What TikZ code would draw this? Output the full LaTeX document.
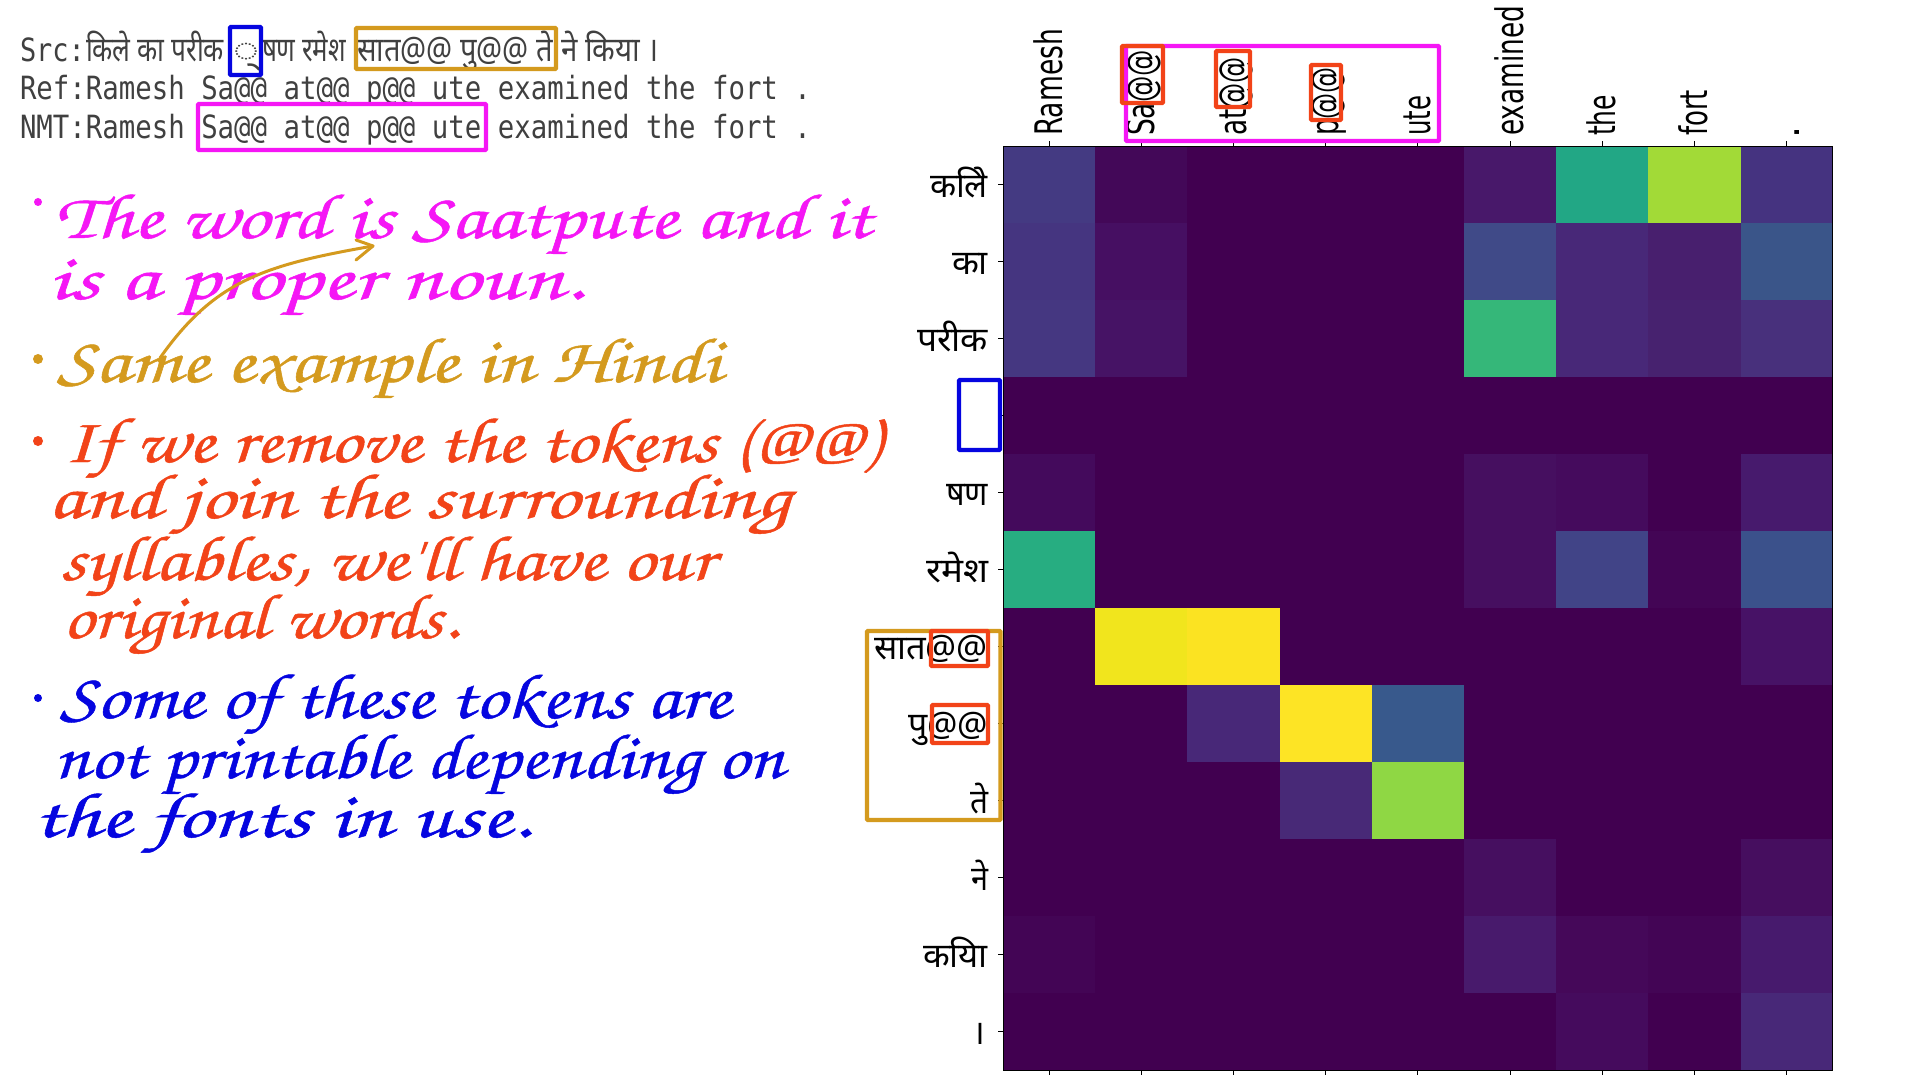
\documentclass[tikz,border=0pt]{standalone}
\usepackage{graphicx}
\usepackage{fontspec}
\setmainfont{DejaVu Sans}
\newfontfamily\monof{DejaVu Sans Mono}
\newfontfamily\devf[Script=Devanagari]{Noto Sans}
\newfontfamily\devraw{Noto Sans}
\newfontfamily\handf[FakeBold=.7]{TeX Gyre Chorus}
\definecolor{hmag}{HTML}{F516F5}
\definecolor{hgold}{HTML}{D49A1E}
\definecolor{hred}{HTML}{F24318}
\definecolor{hblue}{HTML}{0505E0}
\definecolor{dgray}{HTML}{404040}
\tikzset{
 tn/.style={inner sep=0pt,outer sep=0pt,anchor=base west},
 frame/.style={line width=2.2pt,rounded corners=.5pt},
 tick/.style={draw=black,line width=.45pt}
}
% name colour x baseline width text
\newcommand{\hwline}[6]{\node[tn,text=#2] (#1) at (#3,#4) {\resizebox{\dimexpr #5pt/2\relax}{\height}{\fontsize{32}{32}\handf #6}};}
\newcommand{\mono}[5]{\node[tn,text=dgray] (#1) at (#2,#3) {\resizebox{\dimexpr #4pt/2\relax}{\height}{\fontsize{16}{16}\monof #5}};}
\newcommand{\dev}[5]{\node[tn,text=dgray] (#1) at (#2,#3) {\resizebox{\dimexpr #4pt/2\relax}{\height}{\fontsize{17}{17}\devf #5}};}
\newcommand{\ylab}[4]{\node[tn,anchor=base east,text=black] (#1) at (988,#2) {\resizebox{\dimexpr #3pt/2\relax}{\height}{\fontsize{17}{17}\devraw #4}};}
\newcommand{\xlab}[4]{\node[tn,rotate=90,text=black] (#1) at (#2+13,136) {\resizebox{\dimexpr #3pt/2\relax}{\height}{\fontsize{19}{19}\selectfont #4}};}
\begin{document}
\begin{tikzpicture}[x=.5pt,y=-.5pt]
\useasboundingbox (0,0) rectangle (1920,1080);
\fill[white] (0,0) rectangle (1920,1080);
% header text
\mono{srcl}{20}{62}{65}{Src:}
\dev{srca}{86}{62}{138}{किले का परीक}
\dev{srcb}{233}{62}{26}{◌्}
\dev{srcc}{262}{62}{84}{षण रमेश}
\dev{srcd}{357}{62}{196}{सात@@ पु@@ ते}
\dev{srce}{561}{62}{98}{ने किया ।}
\mono{refl}{20}{100}{791}{Ref:Ramesh Sa@@ at@@ p@@ ute examined the fort .}
\mono{nmtl}{20}{139}{791}{NMT:Ramesh Sa@@ at@@ p@@ ute examined the fort .}
\draw[frame,hblue] (230,27) rectangle (261,75);
\draw[frame,hgold] (356,28) rectangle (556,69);
\draw[frame,hmag] (198,104) rectangle (486,150);
% handwriting
\fill[hmag] (38,202) circle (4);
\hwline{ha}{hmag}{55}{238}{816}{The word is Saatpute and it}
\hwline{hb}{hmag}{48}{299}{536}{is a proper noun.}
\fill[hgold] (38,359) circle (5);
\hwline{hc}{hgold}{57}{382}{664}{Same example in Hindi}
\fill[hred] (38,441) circle (5);
\hwline{hd}{hred}{64}{462}{816}{If we remove the tokens (@@)}
\hwline{he}{hred}{48}{518}{742}{and join the surrounding}
\hwline{hf}{hred}{60}{580}{654}{syllables, we'll have our}
\hwline{hg}{hred}{63}{638}{396}{original words.}
\fill[hblue] (38,698) circle (4);
\hwline{hh}{hblue}{60}{718}{670}{Some of these tokens are}
\hwline{hi}{hblue}{54}{778}{730}{not printable depending on}
\hwline{hj}{hblue}{33}{837}{498}{the fonts in use.}
\coordinate (arrs) at (160,358);
\coordinate (arre) at (373,246);
\draw[hgold,line width=1.5pt,line cap=round] (arrs) .. controls (215,280) and (265,265) .. (arre);
\draw[hgold,line width=1.5pt,line cap=round,line join=round] (356,240) -- (arre) -- (356,260);
% heat map
\def\cw{92.2}\def\ch{77}\def\xo{1003}\def\yo{146}
\def\b{410050}
\foreach \rw [count=\r from 0] in {
 {443A82,430858,\b,\b,\b,48186A,22A785,A2DA37,453380},
 {453580,460F62,\b,\b,\b,404A88,482878,481F6E,3A5589},
 {453781,461365,\b,\b,\b,35B779,482878,47226F,48307C},
 {\b,\b,\b,\b,\b,\b,\b,\b,\b},
 {440A5C,\b,\b,\b,\b,460F60,450B5D,\b,471A6D},
 {27AD81,\b,\b,\b,\b,460F60,414487,430555,3B518B},
 {\b,F1E51D,FBE322,\b,\b,\b,\b,\b,471266},
 {\b,\b,482878,FDE425,38598C,\b,\b,\b,\b},
 {\b,\b,\b,482977,8FD744,\b,\b,\b,\b},
 {\b,\b,\b,\b,\b,460F60,\b,\b,460E5F},
 {430555,\b,\b,\b,\b,481A6C,450859,430555,471A6D},
 {\b,\b,\b,\b,\b,\b,450B5D,\b,482878}}{
 \foreach \cc [count=\k from 0] in \rw {
  \definecolor{cellc}{HTML}{\cc}
  \fill[cellc] ({\xo+\k*\cw},{\yo+\r*\ch}) rectangle ++(\cw,\ch);
 }
}
\draw[black,line width=.45pt] (\xo,\yo) rectangle ({\xo+9*\cw},{\yo+12*\ch});
\foreach \k in {0,...,8} {
 \draw[tick] ({\xo+(\k+.5)*\cw},\yo) -- ++(0,-5);
 \draw[tick] ({\xo+(\k+.5)*\cw},{\yo+12*\ch}) -- ++(0,5);
}
\foreach \r in {0,...,11} \draw[tick] (\xo,{\yo+(\r+.5)*\ch}) -- ++(-5,0);
% column labels
\xlab{c0}{1049}{107}{Ramesh}
\xlab{c1}{1141.3}{86}{Sa@@}
\xlab{c2}{1233.5}{79}{at@@}
\xlab{c3}{1325.7}{69}{p@@}
\xlab{c4}{1417.9}{40}{ute}
\xlab{c5}{1510}{130}{examined}
\xlab{c6}{1602}{41}{the}
\xlab{c7}{1694.6}{46}{fort}
\node[tn,rotate=90,text=black] (c8) at (1799.8,139) {\fontsize{19}{19}\selectfont .};
% row labels
\ylab{r0}{197.5}{58}{किले}
\ylab{r1}{274.5}{36}{का}
\ylab{r2}{351.5}{71}{परीक}
\ylab{r4}{505.5}{42}{षण}
\ylab{r5}{582.5}{62}{रमेश}
\ylab{r6}{659.5}{114}{सात@@}
\ylab{r7}{736.5}{80}{पु@@}
\ylab{r8}{813.5}{18}{ते}
\ylab{r9}{890.5}{17}{ने}
\ylab{r10}{967.5}{65}{किया}
\node[tn,anchor=base east,text=black] (r11) at (985,1044.5) {\fontsize{17}{17}\devraw ।};
% boxes on axes
\draw[frame,hmag] (1126,46) rectangle (1439,141);
\draw[frame,hred] (1122,46) rectangle (1163,103);
\draw[frame,hred] (1216,51) rectangle (1250,107);
\draw[frame,hred] (1311,65) rectangle (1341,120);
\draw[frame,hblue] (959,380) rectangle (1000,450);
\draw[frame,hgold] (867,631) rectangle (1000.5,820);
\draw[frame,hred] (931,631) rectangle (988,666);
\draw[frame,hred] (932,705) rectangle (988,743);
\end{tikzpicture}
\end{document}
